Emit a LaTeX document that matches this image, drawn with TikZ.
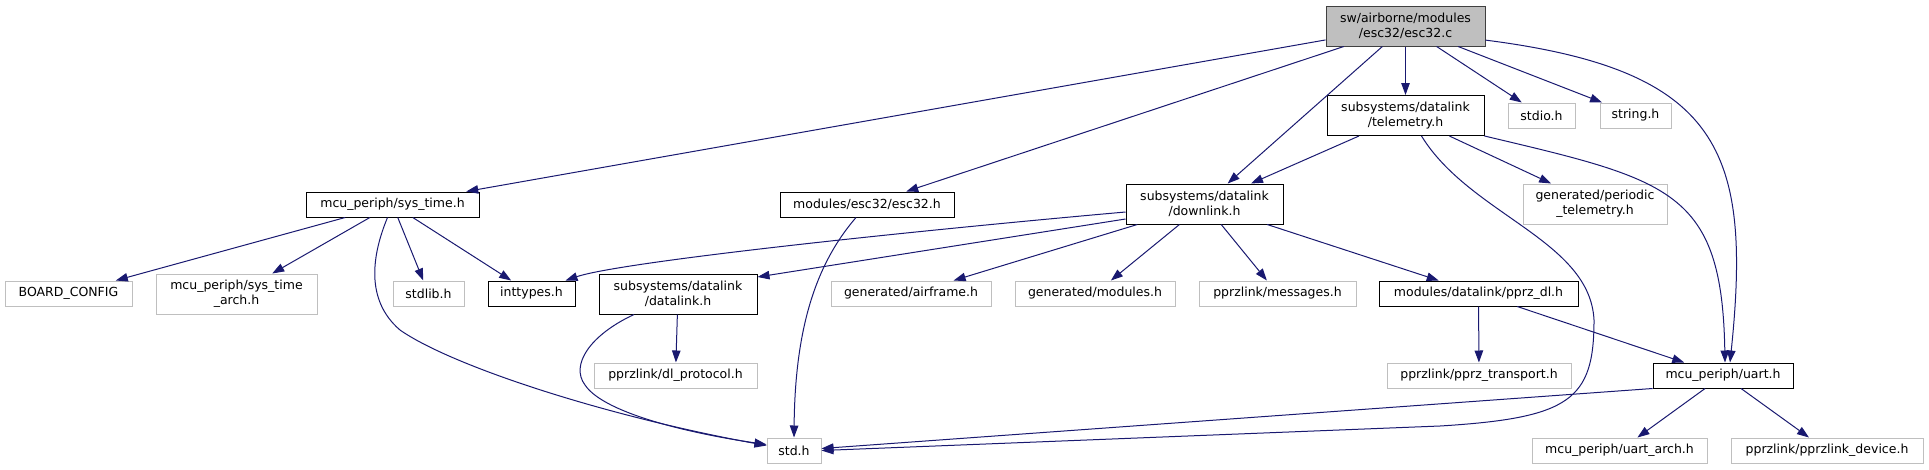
\documentclass[tikz,border=0pt]{standalone}
\usepackage{fontspec}
\setmainfont{DejaVu Sans}
\usetikzlibrary{arrows.meta}
\definecolor{edgenavy}{RGB}{25,25,112}
\definecolor{extgrey}{RGB}{191,191,191}
\definecolor{rootfill}{RGB}{191,191,191}
\definecolor{rootline}{RGB}{64,64,64}
\tikzset{
  base/.style={rectangle, inner sep=0pt, align=center, font=\fontsize{12.5}{15}\selectfont, line width=1pt, minimum height=25pt},
  hdr/.style={base, draw=black, fill=white},
  ext/.style={base, draw=extgrey, fill=white},
  root/.style={base, draw=rootline, fill=rootfill},
  twoline/.style={minimum height=40pt},
  dep/.style={-{Triangle[length=12pt,width=8.5pt]}, line width=1pt, draw=edgenavy},
}

\begin{document}
\begin{tikzpicture}[x=1pt,y=-1pt]
  \useasboundingbox (0,0) rectangle (1929,469);
  % top
  \node[root,twoline,minimum width=159pt] (esc32c) at (1405.5,26) {sw/airborne/modules\\/esc32/esc32.c};
  \node[hdr,twoline,minimum width=157pt] (telem) at (1405.5,115.5) {subsystems/datalink\\/telemetry.h};
  \node[ext,minimum width=67pt] (stdio) at (1541.5,115.5) {stdio.h};
  \node[ext,minimum width=71pt] (string) at (1635.5,115.5) {string.h};
  % second row
  \node[hdr,minimum width=173pt] (systime) at (392.5,204.5) {mcu\_periph/sys\_time.h};
  \node[hdr,minimum width=174pt] (esc32h) at (867,204.5) {modules/esc32/esc32.h};
  \node[hdr,twoline,minimum width=157pt] (downlink) at (1204.5,204) {subsystems/datalink\\/downlink.h};
  \node[ext,twoline,minimum width=144pt] (periodic) at (1595,204) {generated/periodic\\\_telemetry.h};
  % third row
  \node[ext,minimum width=127pt] (board) at (68.5,293.5) {BOARD\_CONFIG};
  \node[ext,twoline,minimum width=161pt] (systimearch) at (236.5,294) {mcu\_periph/sys\_time\\\_arch.h};
  \node[ext,minimum width=71pt] (stdlib) at (428.5,293.5) {stdlib.h};
  \node[hdr,minimum width=87pt] (inttypes) at (531.5,293.5) {inttypes.h};
  \node[hdr,twoline,minimum width=158pt] (datalink) at (678,294) {subsystems/datalink\\/datalink.h};
  \node[ext,minimum width=160pt] (airframe) at (911,293.5) {generated/airframe.h};
  \node[ext,minimum width=160pt] (modules) at (1095,293.5) {generated/modules.h};
  \node[ext,minimum width=157pt] (messages) at (1277.5,293.5) {pprzlink/messages.h};
  \node[hdr,minimum width=199pt] (pprzdl) at (1478.5,293.5) {modules/datalink/pprz\_dl.h};
  % fourth row
  \node[ext,minimum width=163pt] (dlproto) at (675.5,375.5) {pprzlink/dl\_protocol.h};
  \node[ext,minimum width=184pt] (transport) at (1479,375.5) {pprzlink/pprz\_transport.h};
  \node[hdr,minimum width=140pt] (uart) at (1723,375.5) {mcu\_periph/uart.h};
  % bottom
  \node[ext,minimum width=54pt] (std) at (794,450.5) {std.h};
  \node[ext,minimum width=175pt] (uartarch) at (1619.5,450.5) {mcu\_periph/uart\_arch.h};
  \node[ext,minimum width=192pt] (device) at (1827,450.5) {pprzlink/pprzlink\_device.h};
  % straight includes
  \foreach \a/\b in {esc32c/systime,esc32c/esc32h,esc32c/downlink,esc32c/telem,esc32c/stdio,esc32c/string,
    telem/downlink,telem/periodic,systime/board,systime/systimearch,systime/stdlib,systime/inttypes,
    downlink/airframe,downlink/modules,downlink/messages,downlink/pprzdl,datalink/dlproto,
    pprzdl/transport,pprzdl/uart,uart/uartarch,uart/device}{\draw[dep] (\a) -- (\b);}
  \draw[dep] ([yshift=-15pt]downlink.west) -- ([yshift=17pt]datalink.east);
  \draw[dep] (uart.south west) -- ([yshift=2pt]std.east);
  % curved includes
  \draw[dep] (esc32c.-10) .. controls (1720,70) and (1752,150) .. ([xshift=7pt]uart.north);
  \draw[dep] (telem.south east) .. controls (1670,180) and (1722,190) .. ([xshift=2pt]uart.north);
  \draw[dep] ([xshift=16pt]telem.south) .. controls (1470,215) and (1590,240) .. (1594,320)
    .. controls (1594,400) and (1570,418) .. (1440,426) -- (std.east);
  \draw[dep] ([yshift=-8pt]downlink.west) .. controls (900,232) and (620,262) .. ([xshift=-10pt]inttypes.north east);
  \draw[dep] ([xshift=-5pt]systime.south) .. controls (372,255) and (365,300) .. (400,330)
    .. controls (450,365) and (600,415) .. ([yshift=5pt]std.west);
  \draw[dep] ([xshift=-11pt]esc32h.south) .. controls (815,265) and (795,330) .. (std.north);
  \draw[dep] ([xshift=-44pt]datalink.south) .. controls (590,335) and (570,365) .. (585,385)
    .. controls (605,415) and (700,435) .. ([yshift=6pt]std.west);
\end{tikzpicture}
\end{document}
